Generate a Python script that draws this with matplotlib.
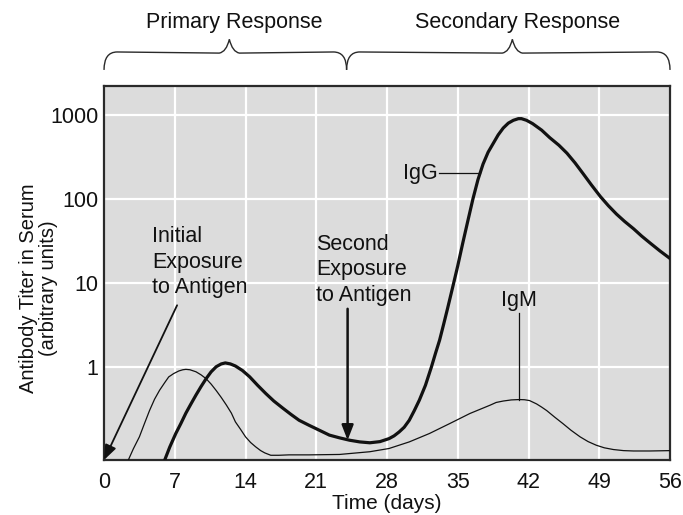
import numpy as np
import matplotlib
matplotlib.use('Agg')
import matplotlib.pyplot as plt
from matplotlib.path import Path
from matplotlib.patches import PathPatch
import matplotlib.transforms as mtransforms

plt.rcParams['font.family'] = ['Liberation Sans', 'DejaVu Sans']

# antibody titer readings (days, arbitrary units)
igm_days = [2.0, 2.4, 2.9, 3.5, 4.0, 4.5, 5.0, 5.5, 6.0, 6.4, 6.9, 7.4, 7.8, 8.1, 8.5,
            9.1, 9.6, 10.1, 10.6, 11.1, 11.6, 12.1, 12.6, 13.0, 13.5, 14.0, 14.5, 15.0,
            15.5, 15.9, 16.5, 17.3, 18.3, 20.3, 23.3, 26.3, 28.2, 30.2, 32.2, 34.2,
            36.2, 38.2, 38.8, 39.5, 40.3, 41.1, 41.6, 42.1, 42.8, 43.3, 43.8, 44.6,
            45.4, 46.2, 47.1, 47.9, 48.7, 49.5, 50.4, 51.4, 52.4, 54.0, 56.0]
igm_titer = [0.06, 0.077, 0.105, 0.146, 0.21, 0.30, 0.41, 0.525, 0.645, 0.756, 0.83,
             0.89, 0.92, 0.93, 0.92, 0.87, 0.80, 0.72, 0.62, 0.52, 0.43, 0.35, 0.28,
             0.22, 0.18, 0.146, 0.125, 0.111, 0.10, 0.094, 0.088, 0.088, 0.089, 0.089,
             0.09, 0.097, 0.106, 0.127, 0.16, 0.21, 0.277, 0.348, 0.375, 0.39, 0.402,
             0.406, 0.404, 0.395, 0.36, 0.33, 0.30, 0.25, 0.21, 0.175, 0.146, 0.128,
             0.116, 0.108, 0.103, 0.10, 0.099, 0.099, 0.10]

igg_days = [5.5, 6.0, 6.5, 7.1, 7.6, 8.1, 8.6, 9.1, 9.6, 10.1, 10.6, 11.1, 11.6, 12.0,
            12.5, 13.0, 13.7, 14.4, 15.2, 16.0, 16.8, 17.7, 18.5, 19.3, 20.3, 21.3,
            22.3, 23.3, 24.3, 25.3, 26.3, 27.3, 28.2, 28.7, 29.2, 29.7, 30.2, 30.7,
            31.2, 31.8, 32.4, 32.8, 33.2, 33.6, 34.0, 34.6, 35.0, 35.5, 36.0, 36.5,
            37.0, 37.5, 38.0, 38.5, 39.0, 39.5, 40.0, 40.5, 41.0, 41.3, 41.8, 42.4,
            43.3, 44.1, 45.0, 45.8, 46.6, 47.4, 48.2, 49.1, 49.9, 50.7, 51.5, 52.4,
            53.2, 54.0, 55.0, 56.0]
igg_titer = [0.06, 0.077, 0.11, 0.16, 0.21, 0.28, 0.36, 0.46, 0.58, 0.72, 0.87, 1.0,
             1.08, 1.11, 1.08, 1.02, 0.9, 0.76, 0.6, 0.48, 0.39, 0.32, 0.27, 0.23, 0.20,
             0.175, 0.153, 0.142, 0.133, 0.127, 0.124, 0.128, 0.139, 0.15, 0.167, 0.19,
             0.23, 0.30, 0.40, 0.6, 1.0, 1.45, 2.07, 3.2, 5.0, 10.0, 16.0, 30.0, 55.0,
             100.0, 170.0, 260.0, 360.0, 457.0, 580.0, 700.0, 800.0, 865.0, 905.0,
             905.0, 865.0, 790.0, 660.0, 537.0, 437.0, 351.0, 269.0, 200.0, 148.0,
             107.0, 83.0, 66.0, 54.0, 44.0, 36.0, 30.0, 24.0, 19.5]

x_ticks = [0, 7, 14, 21, 28, 35, 42, 49, 56]
y_ticks = [1, 10, 100, 1000]
y_tick_labels = ['1', '10', '100', '1000']

phase_edges = [0, 24, 56]
phase_names = ['Primary Response', 'Secondary Response']

first_dose_day = 0
second_dose_day = 24.1

ink = '#111111'
fs = 15.5

fig = plt.figure(figsize=(6.83, 5.15), dpi=100)
ax = fig.add_axes([0.1523, 0.1068, 0.8287, 0.7262])
ax.set_facecolor('#dcdcdc')

ax.set_yscale('log')
ax.set_xlim(0, 56)
ax.set_ylim(0.0773, 2217)

ax.plot(igm_days, igm_titer, color=ink, lw=0.9, zorder=3, solid_joinstyle='round')
ax.plot(igg_days, igg_titer, color=ink, lw=2.3, zorder=3, solid_joinstyle='round')

ax.set_xticks(x_ticks)
ax.set_xticklabels([str(t) for t in x_ticks])
ax.set_yticks(y_ticks)
ax.set_yticklabels(y_tick_labels)
ax.yaxis.set_minor_locator(matplotlib.ticker.NullLocator())
ax.tick_params(length=0, labelsize=fs, colors=ink, pad=4)
ax.tick_params(axis='x', pad=9)
ax.grid(True, color='white', lw=1.6, zorder=0)
ax.set_axisbelow(True)
for s in ax.spines.values():
    s.set_color('#2a2a2a')
    s.set_linewidth(1.6)

ax.set_xlabel('Time (days)', fontsize=15, color=ink)
ax.xaxis.set_label_coords(0.5, -0.0905)
ax.set_ylabel('Antibody Titer in Serum\n(arbitrary units)', fontsize=14.5,
              color=ink, linespacing=1.1)
ax.yaxis.set_label_coords(-0.081, 0.46)

# arrows marking antigen exposure
ax.annotate('', xy=(first_dose_day, 0.0773), xytext=(7.23, 5.4),
            arrowprops=dict(arrowstyle='-|>,head_length=0.9,head_width=0.35',
                            color=ink, lw=1.3, shrinkA=0, shrinkB=0),
            annotation_clip=False, zorder=4)
ax.text(4.75, 47, 'Initial\nExposure\nto Antigen', fontsize=fs, color=ink,
        va='top', ha='left', linespacing=1.27)

ax.annotate('', xy=(second_dose_day, 0.133), xytext=(second_dose_day, 4.9),
            arrowprops=dict(arrowstyle='-|>,head_length=0.9,head_width=0.35',
                            color=ink, lw=1.8, shrinkA=0, shrinkB=0), zorder=4)
ax.text(21.0, 38, 'Second\nExposure\nto Antigen', fontsize=fs, color=ink,
        va='top', ha='left', linespacing=1.27)

# curve labels with leader lines
ax.text(33.0, 202, 'IgG', fontsize=fs, color=ink, va='center', ha='right')
ax.plot([33.1, 37.2], [202, 202], color=ink, lw=0.9, zorder=3)
ax.text(41.1, 6.2, 'IgM', fontsize=fs, color=ink, va='center', ha='center')
ax.plot([41.1, 41.1], [4.4, 0.406], color=ink, lw=0.9, zorder=3)

# braces over the two response phases
trans = mtransforms.blended_transform_factory(ax.transData, ax.transAxes)
y_end, y_flat, y_tip = 1.043, 1.091, 1.125
for x0, x1, name in zip(phase_edges[:-1], phase_edges[1:], phase_names):
    xm = (x0 + x1) / 2 + 0.4
    verts = [(x0, y_end), (x0, y_flat), (x0 + 1.3, y_flat),
             (xm - 1.0, y_flat - 0.003), (xm - 0.3, y_flat), (xm, y_tip),
             (xm + 0.3, y_flat), (xm + 1.0, y_flat - 0.003),
             (x1 - 1.3, y_flat), (x1, y_flat), (x1, y_end)]
    codes = [Path.MOVETO, Path.CURVE3, Path.CURVE3,
             Path.LINETO, Path.CURVE3, Path.CURVE3,
             Path.CURVE3, Path.CURVE3,
             Path.LINETO, Path.CURVE3, Path.CURVE3]
    ax.add_patch(PathPatch(Path(verts, codes), transform=trans, fill=False,
                           edgecolor='#2a2a2a', lw=1.0, clip_on=False))
    ax.text(xm + 0.5, 1.171, name, transform=trans, fontsize=fs, color=ink,
            ha='center', va='center')

fig.savefig('out.png', dpi=100)
